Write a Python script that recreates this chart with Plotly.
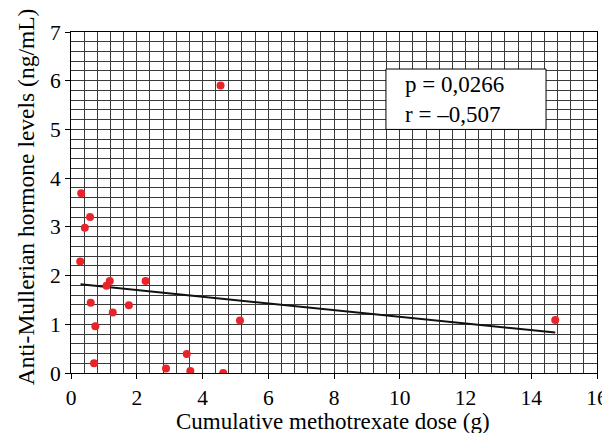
import plotly.graph_objects as go

# Data
dose_g = [0.31, 0.58, 0.42, 0.28, 0.60, 0.74, 0.70, 1.27, 1.76, 2.27, 1.18, 1.08,
          2.89, 3.52, 3.63, 4.63, 5.14, 4.55, 14.73]
amh_ng_ml = [3.69, 3.20, 2.98, 2.29, 1.44, 0.96, 0.20, 1.24, 1.39, 1.89, 1.89, 1.79,
             0.09, 0.39, 0.04, 0.00, 1.08, 5.90, 1.09]

fit_x = [0.29, 14.73]
fit_y = [1.82, 0.83]

stats_text = ["p = 0,0266", "r = \u20130,507"]
box_x = [9.58, 14.45]
box_y = [5.0, 6.24]

x_ticks = [0, 2, 4, 6, 8, 10, 12, 14, 16]
y_ticks = [0, 1, 2, 3, 4, 5, 6, 7]

x_title = "Cumulative methotrexate dose (g)"
y_title = "Anti-Mullerian hormone levels (ng/mL)"

font_family = "Liberation Serif, Times New Roman, serif"
grid_col = "#3a3a3a"

fig = go.Figure()
fig.add_trace(go.Scatter(x=fit_x, y=fit_y, mode="lines",
                         line=dict(color="#111111", width=2), showlegend=False))
fig.add_trace(go.Scatter(x=dose_g, y=amh_ng_ml, mode="markers",
                         marker=dict(color="#e8242a", size=8), showlegend=False))

fig.add_shape(type="rect", x0=box_x[0], x1=box_x[1], y0=box_y[0], y1=box_y[1],
              xref="x", yref="y", fillcolor="white",
              line=dict(color="black", width=1), layer="above")
fig.add_annotation(x=box_x[0] + 0.52, y=(box_y[0] + box_y[1]) / 2, xref="x", yref="y",
                   text="<br>".join(stats_text), showarrow=False, xanchor="left",
                   yanchor="middle", align="left",
                   font=dict(family=font_family, size=23, color="black"))

# axis titles as annotations for exact placement
fig.add_annotation(x=0.498, y=-0.141, xref="paper", yref="paper", text=x_title,
                   showarrow=False, xanchor="center", yanchor="middle",
                   font=dict(family=font_family, size=23, color="black"))
fig.add_annotation(x=-0.084, y=0.518, xref="paper", yref="paper", text=y_title,
                   showarrow=False, xanchor="center", yanchor="middle", textangle=-90,
                   font=dict(family=font_family, size=23.5, color="black"))

axis_common = dict(
    showline=True, linecolor="black", linewidth=1, mirror=True,
    ticks="outside", ticklen=5, tickcolor="black", tickwidth=1,
    showgrid=True, gridcolor=grid_col, gridwidth=1, zeroline=False,
    automargin=False,
    tickfont=dict(family=font_family, size=21.5, color="black"),
)

# the page body adds an 8px offset, so the figure is 8px smaller with matching margins
fig.update_layout(
    width=602, height=425,
    margin=dict(l=63, r=13, t=24, b=60),
    paper_bgcolor="white", plot_bgcolor="white",
    font=dict(family=font_family, color="black"),
    xaxis=dict(range=[0, 16], tickvals=x_ticks,
               minor=dict(dtick=0.4, tick0=0, showgrid=True, gridcolor=grid_col, gridwidth=1),
               **axis_common),
    yaxis=dict(range=[0, 7], tickvals=y_ticks,
               minor=dict(dtick=0.2, tick0=0, showgrid=True, gridcolor=grid_col, gridwidth=1),
               **axis_common),
)

fig.write_html("out.html")
